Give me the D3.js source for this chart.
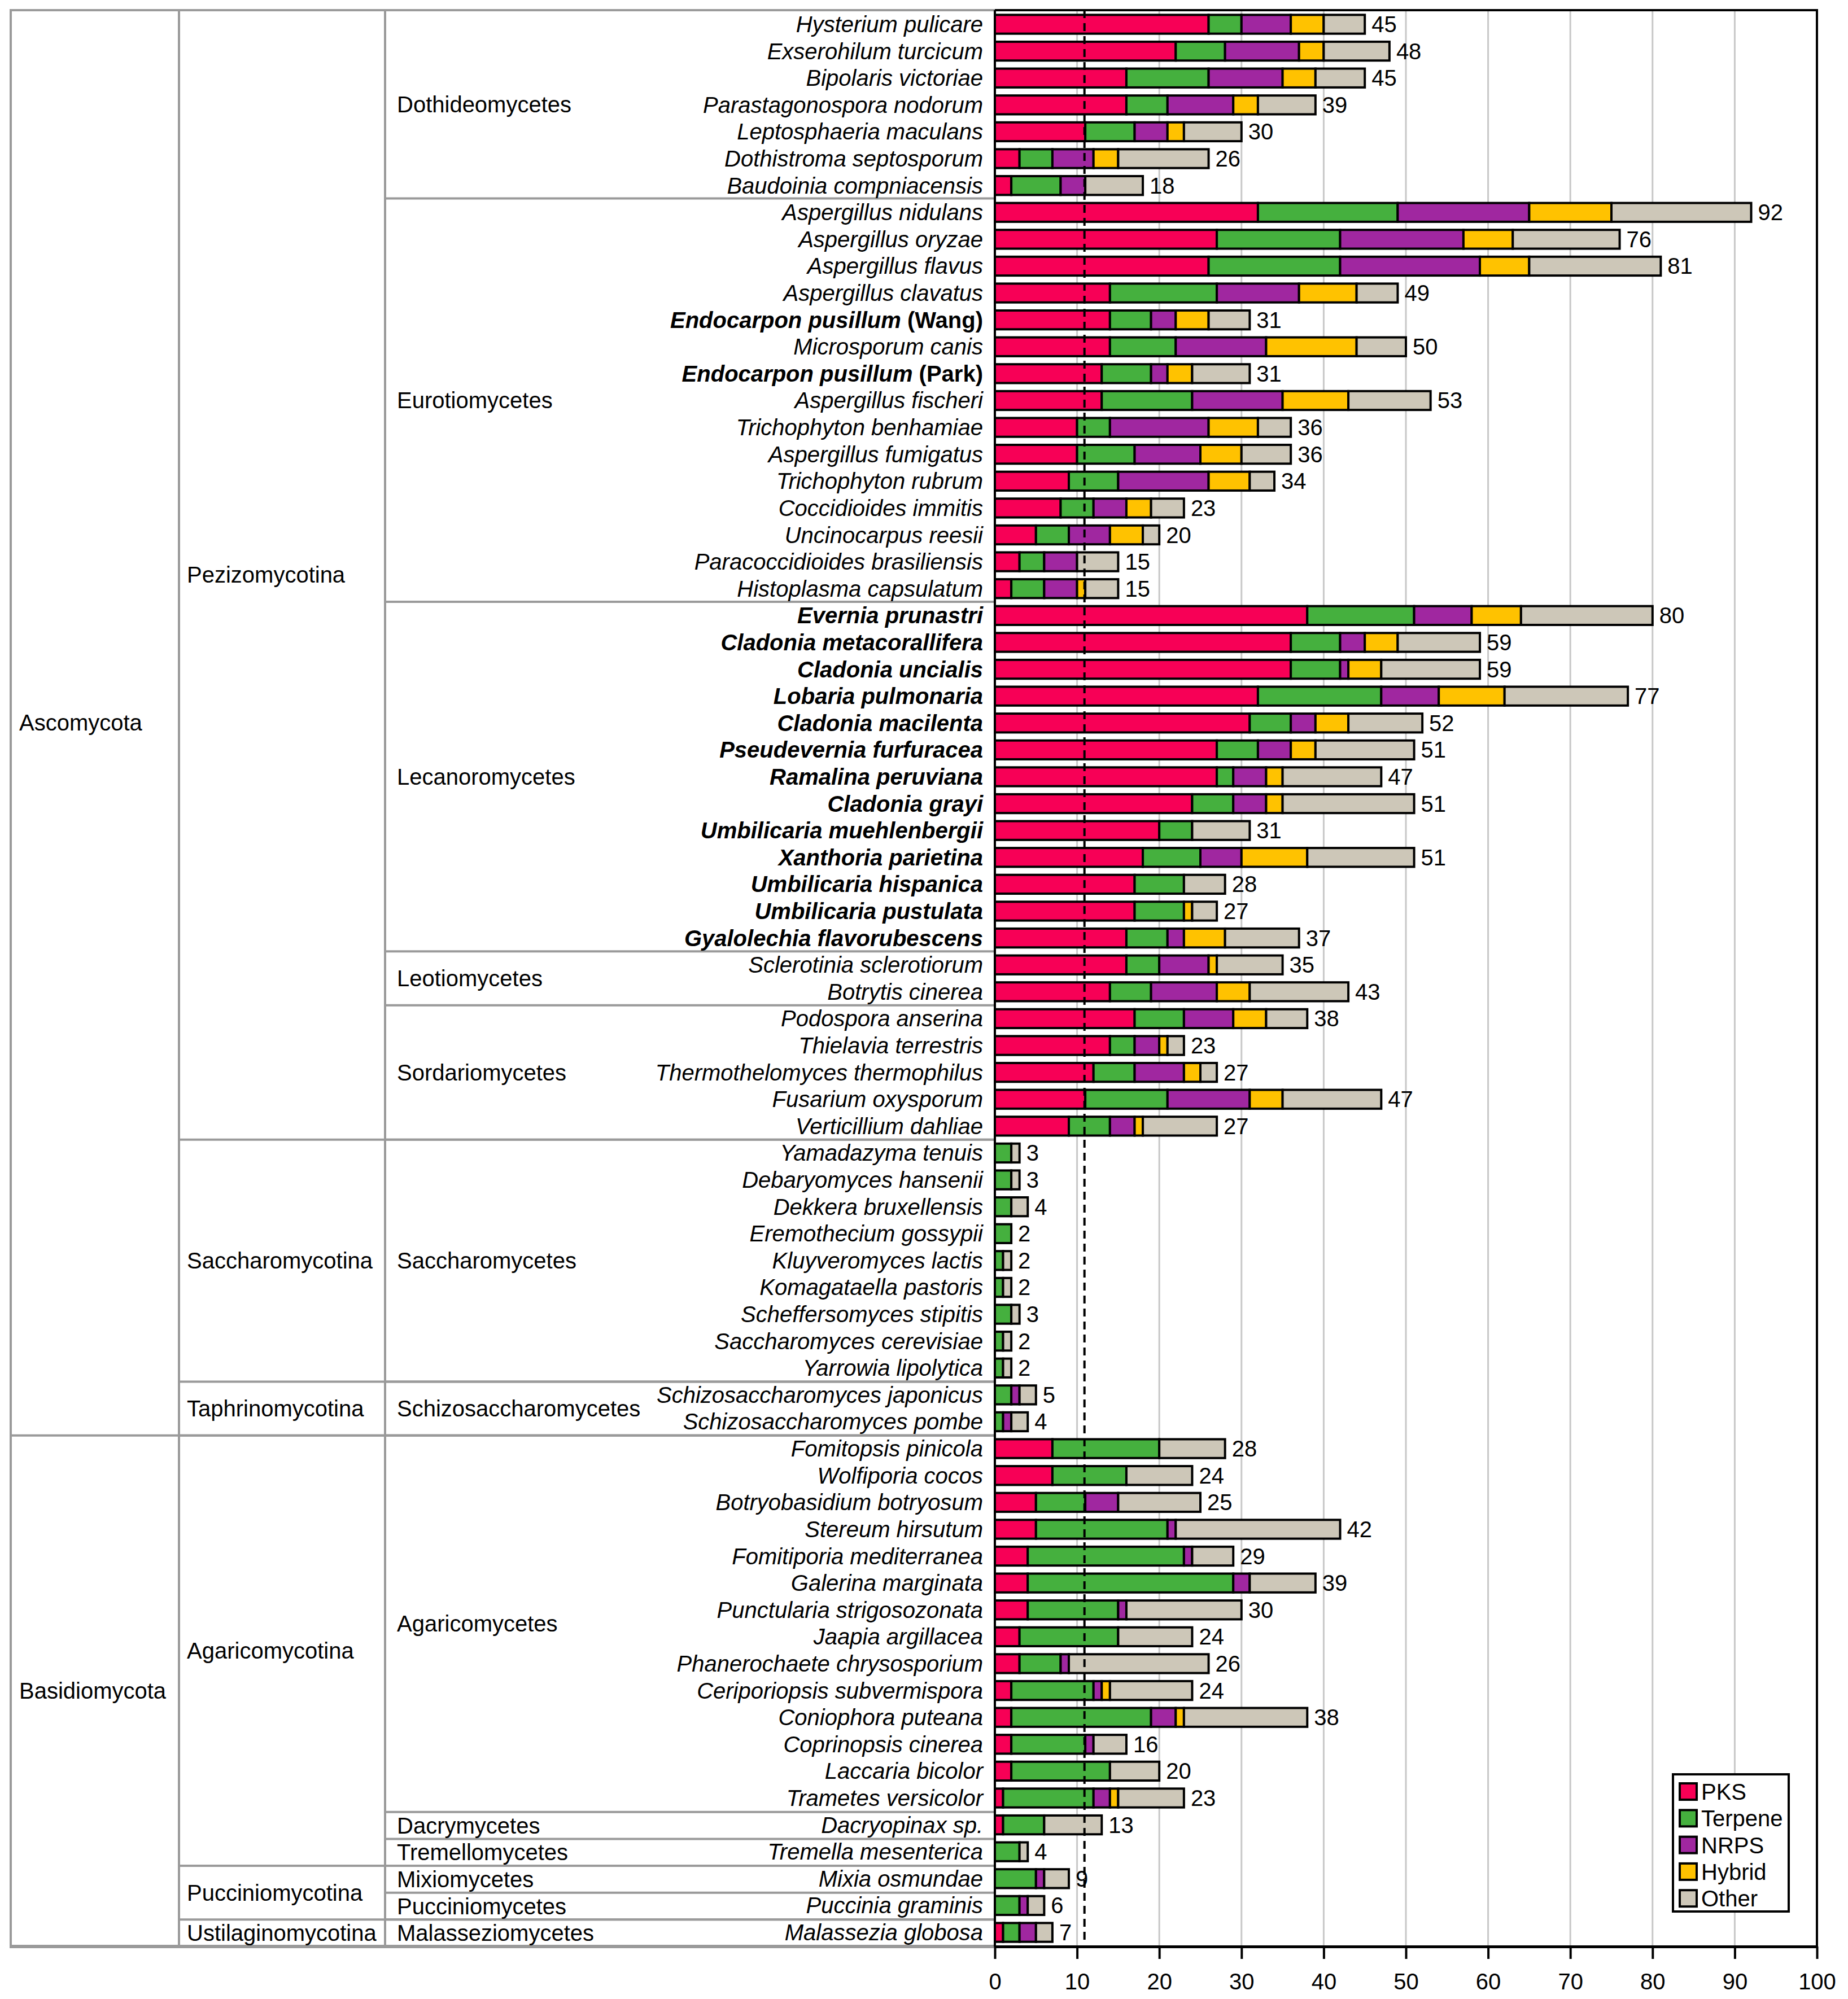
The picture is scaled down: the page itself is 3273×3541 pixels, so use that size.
<!DOCTYPE html>
<html>
<head>
<meta charset="utf-8">
<script src="https://cdn.jsdelivr.net/npm/d3@7"></script>
<style>
  body { margin: 0; background: #fff; }
  text { font-family: "Liberation Sans", Arial, sans-serif; fill: #000; }
</style>
</head>
<body>
<svg id="chart" width="3273" height="3541"></svg>
<script>
// species, top to bottom
let species = [
  "Hysterium pulicare", "Exserohilum turcicum", "Bipolaris victoriae", "Parastagonospora nodorum",
  "Leptosphaeria maculans", "Dothistroma septosporum", "Baudoinia compniacensis",
  "Aspergillus nidulans", "Aspergillus oryzae", "Aspergillus flavus", "Aspergillus clavatus",
  "Endocarpon pusillum (Wang)", "Microsporum canis", "Endocarpon pusillum (Park)", "Aspergillus fischeri",
  "Trichophyton benhamiae", "Aspergillus fumigatus", "Trichophyton rubrum", "Coccidioides immitis",
  "Uncinocarpus reesii", "Paracoccidioides brasiliensis", "Histoplasma capsulatum",
  "Evernia prunastri", "Cladonia metacorallifera", "Cladonia uncialis", "Lobaria pulmonaria",
  "Cladonia macilenta", "Pseudevernia furfuracea", "Ramalina peruviana", "Cladonia grayi",
  "Umbilicaria muehlenbergii", "Xanthoria parietina", "Umbilicaria hispanica", "Umbilicaria pustulata",
  "Gyalolechia flavorubescens",
  "Sclerotinia sclerotiorum", "Botrytis cinerea",
  "Podospora anserina", "Thielavia terrestris", "Thermothelomyces thermophilus", "Fusarium oxysporum",
  "Verticillium dahliae",
  "Yamadazyma tenuis", "Debaryomyces hansenii", "Dekkera bruxellensis", "Eremothecium gossypii",
  "Kluyveromyces lactis", "Komagataella pastoris", "Scheffersomyces stipitis", "Saccharomyces cerevisiae",
  "Yarrowia lipolytica",
  "Schizosaccharomyces japonicus", "Schizosaccharomyces pombe",
  "Fomitopsis pinicola", "Wolfiporia cocos", "Botryobasidium botryosum", "Stereum hirsutum",
  "Fomitiporia mediterranea", "Galerina marginata", "Punctularia strigosozonata", "Jaapia argillacea",
  "Phanerochaete chrysosporium", "Ceriporiopsis subvermispora", "Coniophora puteana", "Coprinopsis cinerea",
  "Laccaria bicolor", "Trametes versicolor",
  "Dacryopinax sp.", "Tremella mesenterica", "Mixia osmundae", "Puccinia graminis", "Malassezia globosa"
];

let pks     = [26,22,16,16,11,3,2, 32,27,26,14,14,14,13,13,10,10,9,8,5,3,2, 38,36,36,32,31,27,27,24,20,18,17,17,16, 16,14, 17,14,12,11,9, 0,0,0,0,0,0,0,0,0, 0,0, 7,7,5,5,4,4,4,3,3,2,2,2,2,1, 1,0,0,0,1];
let terpene = [4,6,10,5,6,4,6, 17,15,16,13,5,8,6,11,4,7,6,4,4,3,4, 13,6,6,15,5,5,2,5,4,7,6,6,5, 4,5, 6,3,5,10,5, 2,2,2,2,1,1,2,1,1, 2,1, 13,9,6,16,19,25,11,12,5,10,17,9,12,11, 5,3,5,3,2];
let nrps    = [6,9,9,8,4,5,3, 16,15,17,10,3,11,2,11,12,8,11,4,5,4,4, 7,3,1,7,3,4,4,4,0,5,0,0,2, 6,8, 6,3,6,10,3, 0,0,0,0,0,0,0,0,0, 1,1, 0,0,4,1,1,2,1,0,1,1,3,1,0,2, 0,0,1,1,2];
let hybrid  = [4,3,4,3,2,3,0, 10,6,6,7,4,11,3,8,6,5,5,3,4,0,1, 6,4,4,8,4,3,2,2,0,8,0,1,5, 1,4, 4,1,2,4,1, 0,0,0,0,0,0,0,0,0, 0,0, 0,0,0,0,0,0,0,0,0,1,1,0,0,1, 0,0,0,0,0];
let other   = [5,8,6,7,7,11,7, 17,13,16,5,5,6,7,10,4,6,3,4,2,5,4, 16,10,12,15,9,12,12,16,7,13,5,3,9, 8,12, 5,2,2,12,9, 1,1,2,0,1,1,1,1,1, 2,2, 8,8,10,20,5,8,14,9,17,10,15,4,6,8, 7,1,3,2,2];

let boldSpecies = [
  "Endocarpon pusillum (Wang)", "Endocarpon pusillum (Park)",
  "Evernia prunastri", "Cladonia metacorallifera", "Cladonia uncialis", "Lobaria pulmonaria",
  "Cladonia macilenta", "Pseudevernia furfuracea", "Ramalina peruviana", "Cladonia grayi",
  "Umbilicaria muehlenbergii", "Xanthoria parietina", "Umbilicaria hispanica", "Umbilicaria pustulata",
  "Gyalolechia flavorubescens"
];

// taxonomy groups: [name, number of species rows]
let phyla = [["Ascomycota", 53], ["Basidiomycota", 19]];
let subphyla = [["Pezizomycotina", 42], ["Saccharomycotina", 9], ["Taphrinomycotina", 2],
  ["Agaricomycotina", 16], ["Pucciniomycotina", 2], ["Ustilaginomycotina", 1]];
let classes = [["Dothideomycetes", 7], ["Eurotiomycetes", 15], ["Lecanoromycetes", 13], ["Leotiomycetes", 2],
  ["Sordariomycetes", 5], ["Saccharomycetes", 9], ["Schizosaccharomycetes", 2], ["Agaricomycetes", 14],
  ["Dacrymycetes", 1], ["Tremellomycetes", 1], ["Mixiomycetes", 1], ["Pucciniomycetes", 1],
  ["Malasseziomycetes", 1]];

let categories = ["PKS", "Terpene", "NRPS", "Hybrid", "Other"];
let colors = ["#f70056", "#45b03e", "#a027a0", "#ffc200", "#cdc7b8"];
let xTicks = [0, 10, 20, 30, 40, 50, 60, 70, 80, 90, 100];
let meanLine = 10.9;

let svg = d3.select("#chart");
let plotTop = 18, plotBottom = 3448, plotLeft = 1762, plotRight = 3218;
let fontSize = 40;

let x = d3.scaleLinear().domain([0, 100]).range([plotLeft, plotRight]);
let rowIdx = d3.range(species.length);
let y = d3.scaleBand().domain(rowIdx).range([plotTop, plotBottom]).paddingInner(0.3).paddingOuter(0.175);
let step = y.step();
// row boundaries for the table (rows split evenly over the plot height)
let rowStep = (plotBottom - plotTop) / species.length;
let rowTop = (i) => plotTop + i * rowStep;
let color = d3.scaleOrdinal().domain(categories).range(colors);

let table = rowIdx.map((i) => ({
  i: i, PKS: pks[i], Terpene: terpene[i], NRPS: nrps[i], Hybrid: hybrid[i], Other: other[i]
}));
let stacked = d3.stack().keys(categories)(table);
let totalOf = (d) => d.PKS + d.Terpene + d.NRPS + d.Hybrid + d.Other;

// gridlines
svg.append("g")
  .selectAll("line")
  .data(xTicks.filter((t) => t > 0 && t < 100))
  .join("line")
  .attr("x1", (d) => x(d)).attr("x2", (d) => x(d))
  .attr("y1", plotTop).attr("y2", plotBottom)
  .attr("stroke", "#c8c8c8")
  .attr("stroke-width", 3);

// table lines
let grid = svg.append("g").attr("stroke", "#9a9a9a").attr("stroke-width", 4).attr("fill", "none");
let colX = [19, 317, 682];
colX.forEach((cx) => {
  grid.append("line").attr("x1", cx).attr("x2", cx).attr("y1", plotTop).attr("y2", plotBottom);
});
grid.append("line").attr("x1", 17).attr("x2", plotLeft).attr("y1", plotTop).attr("y2", plotTop);
grid.append("line").attr("x1", 17).attr("x2", plotLeft).attr("y1", plotBottom).attr("y2", plotBottom).attr("stroke-width", 6);

let drawGroups = (groups, colLeft, textX) => {
  let start = 0;
  groups.forEach(([name, n]) => {
    if (start > 0) {
      grid.append("line")
        .attr("x1", colLeft).attr("x2", plotLeft)
        .attr("y1", rowTop(start)).attr("y2", rowTop(start));
    }
    svg.append("text")
      .attr("x", textX)
      .attr("y", rowTop(start) + (n * rowStep) / 2)
      .attr("dominant-baseline", "central")
      .attr("font-size", fontSize)
      .text(name);
    start += n;
  });
};
drawGroups(phyla, colX[0], 34);
drawGroups(subphyla, colX[1], 331);
drawGroups(classes, colX[2], 703);

// species labels
let labels = svg.append("g")
  .selectAll("text")
  .data(rowIdx)
  .join("text")
  .attr("x", 1741)
  .attr("y", (i) => y(i) + y.bandwidth() / 2)
  .attr("text-anchor", "end")
  .attr("dominant-baseline", "central")
  .attr("font-size", fontSize)
  .attr("font-weight", (i) => (boldSpecies.includes(species[i]) ? "bold" : "normal"));
labels.each(function (i) {
  let name = species[i];
  let m = name.match(/^(.*?)( \(.*\))$/);
  let t = d3.select(this);
  if (m) {
    t.append("tspan").attr("font-style", "italic").text(m[1]);
    t.append("tspan").text(m[2]);
  } else {
    t.append("tspan").attr("font-style", "italic").text(name);
  }
});

// stacked bars
svg.append("g")
  .selectAll("g")
  .data(stacked)
  .join("g")
  .attr("fill", (d) => color(d.key))
  .selectAll("rect")
  .data((d) => d.filter((s) => s[1] - s[0] > 0))
  .join("rect")
  .attr("x", (d) => x(d[0]))
  .attr("width", (d) => x(d[1]) - x(d[0]))
  .attr("y", (d) => y(d.data.i))
  .attr("height", y.bandwidth())
  .attr("stroke", "#000")
  .attr("stroke-width", 4);

// totals
svg.append("g")
  .selectAll("text")
  .data(table)
  .join("text")
  .attr("x", (d) => x(totalOf(d)) + 12)
  .attr("y", (d) => y(d.i) + y.bandwidth() / 2)
  .attr("dominant-baseline", "central")
  .attr("font-size", fontSize)
  .text((d) => totalOf(d));

// dashed reference line
svg.append("line")
  .attr("x1", x(meanLine)).attr("x2", x(meanLine))
  .attr("y1", plotTop).attr("y2", plotBottom - 6)
  .attr("stroke", "#000")
  .attr("stroke-width", 4)
  .attr("stroke-dasharray", "14,9");

// frame: top, right, left
let frame = svg.append("g").attr("stroke", "#000").attr("stroke-width", 4);
frame.append("line").attr("x1", plotLeft).attr("x2", plotRight + 2).attr("y1", plotTop).attr("y2", plotTop);
frame.append("line").attr("x1", plotRight).attr("x2", plotRight).attr("y1", plotTop).attr("y2", plotBottom);
frame.append("line").attr("x1", plotLeft).attr("x2", plotLeft).attr("y1", plotTop).attr("y2", plotBottom);

// x axis
let xAxis = svg.append("g")
  .attr("transform", `translate(0,${plotBottom})`)
  .call(d3.axisBottom(x).tickValues(xTicks).tickSize(22).tickPadding(26).tickSizeOuter(0));
xAxis.select(".domain").attr("stroke-width", 5);
xAxis.selectAll(".tick line").attr("stroke-width", 4);
xAxis.selectAll(".tick text")
  .attr("font-size", fontSize)
  .attr("font-family", "Liberation Sans, Arial, sans-serif");

// legend
let legend = svg.append("g").attr("transform", "translate(2963,3143)");
legend.append("rect")
  .attr("width", 205).attr("height", 243)
  .attr("fill", "#fff").attr("stroke", "#000").attr("stroke-width", 4);
let items = legend.selectAll("g")
  .data(categories)
  .join("g")
  .attr("transform", (d, i) => `translate(12,${16 + i * 47.3})`);
items.append("rect")
  .attr("width", 30).attr("height", 29)
  .attr("fill", (d) => color(d))
  .attr("stroke", "#000").attr("stroke-width", 4);
items.append("text")
  .attr("x", 38).attr("y", 15)
  .attr("dominant-baseline", "central")
  .attr("font-size", fontSize)
  .text((d) => d);
</script>
</body>
</html>
